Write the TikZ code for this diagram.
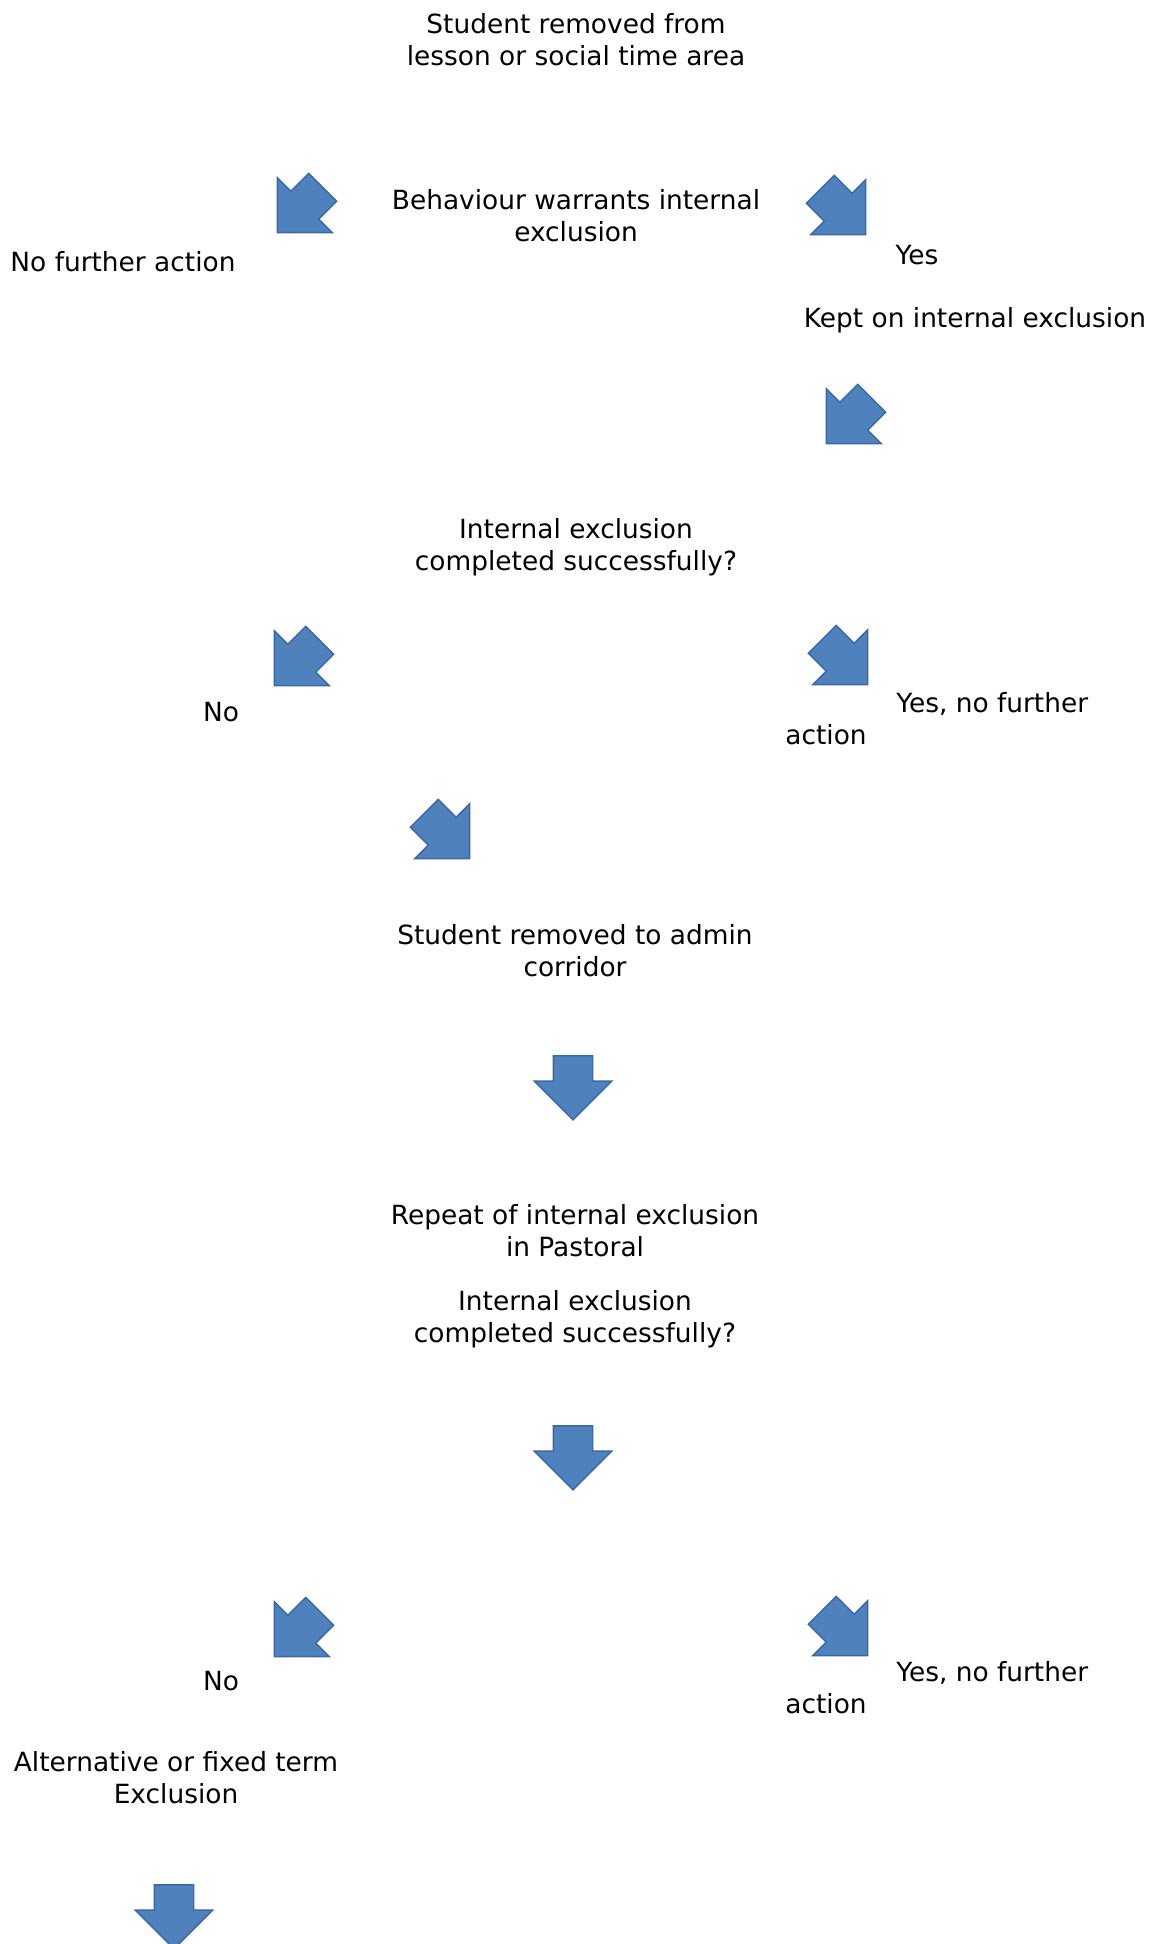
\documentclass[tikz,border=0pt]{standalone}
\usepackage{fontspec}
\setmainfont{DejaVu Sans}
\usetikzlibrary{shapes.arrows}
\definecolor{arrowfill}{RGB}{79,129,189}
\definecolor{arrowedge}{RGB}{58,104,162}
\tikzset{
    msg/.style =    {align=center,
                    text=black,
                    inner sep=0pt,
                    font=\fontsize{13.2}{16}\selectfont},
    blockarrow/.style = {single arrow,
                    fill=arrowfill,
                    draw=arrowedge,
                    line width=0.7pt,
                    inner xsep=0pt,
                    inner ysep=9.5pt,
                    minimum width=0pt,
                    minimum height=32pt,
                    single arrow head extend=9.5pt},
    arrowsw/.style =    {blockarrow, rotate=-135},
    arrowse/.style =    {blockarrow, rotate=-45},
    arrowdown/.style =  {blockarrow, rotate=-90}}

\begin{document}
\begin{tikzpicture}[x=0.5pt,y=-0.5pt]
    \useasboundingbox (0,0) rectangle (1158,1944);
    % texts
    \node[msg] (removed)  at (576,40)   {Student removed from\\lesson or social time area};
    \node[msg] (warrants) at (576,216)  {Behaviour warrants internal\\exclusion};
    \node[msg] (nofa)     at (123,262)  {No further action};
    \node[msg] (yes)      at (917,255)  {Yes};
    \node[msg] (kept)     at (975,320)  {Kept on internal exclusion};
    \node[msg] (done)     at (576,547)  {Internal exclusion\\completed successfully?};
    \node[msg] (no)       at (221,712)  {No};
    \node[msg,align=left,anchor=west] (yesnfa) at (785,719)
        {\hspace*{55.5pt}Yes, no further\\action};
    \node[msg] (admin)    at (575,951)  {Student removed to admin\\corridor};
    \node[msg] (repeat)   at (575,1231) {Repeat of internal exclusion\\in Pastoral};
    \node[msg] (donetoo)  at (575,1319) {Internal exclusion\\completed successfully?};
    \node[msg] (notoo)    at (221,1681) {No};
    \node[msg,align=left,anchor=west] (yesnfatoo) at (785,1688)
        {\hspace*{55.5pt}Yes, no further\\action};
    \node[msg] (fixed)    at (176,1778) {Alternative or fixed term\\Exclusion};
    % block arrows
    \node[arrowsw]   (a1)  at (307,203)  {};
    \node[arrowse]   (a2)  at (836,205)  {};
    \node[arrowsw]   (a3)  at (856,414)  {};
    \node[arrowsw]   (a4)  at (304,656)  {};
    \node[arrowse]   (a5)  at (838,655)  {};
    \node[arrowse]   (a6)  at (440,829)  {};
    \node[arrowdown] (a7)  at (573,1078) {};
    \node[arrowdown] (a8)  at (573,1448) {};
    \node[arrowsw]   (a9)  at (304,1627) {};
    \node[arrowse]   (a10) at (838,1626) {};
    \node[arrowdown] (a11) at (174,1907) {};
\end{tikzpicture}
\end{document}
